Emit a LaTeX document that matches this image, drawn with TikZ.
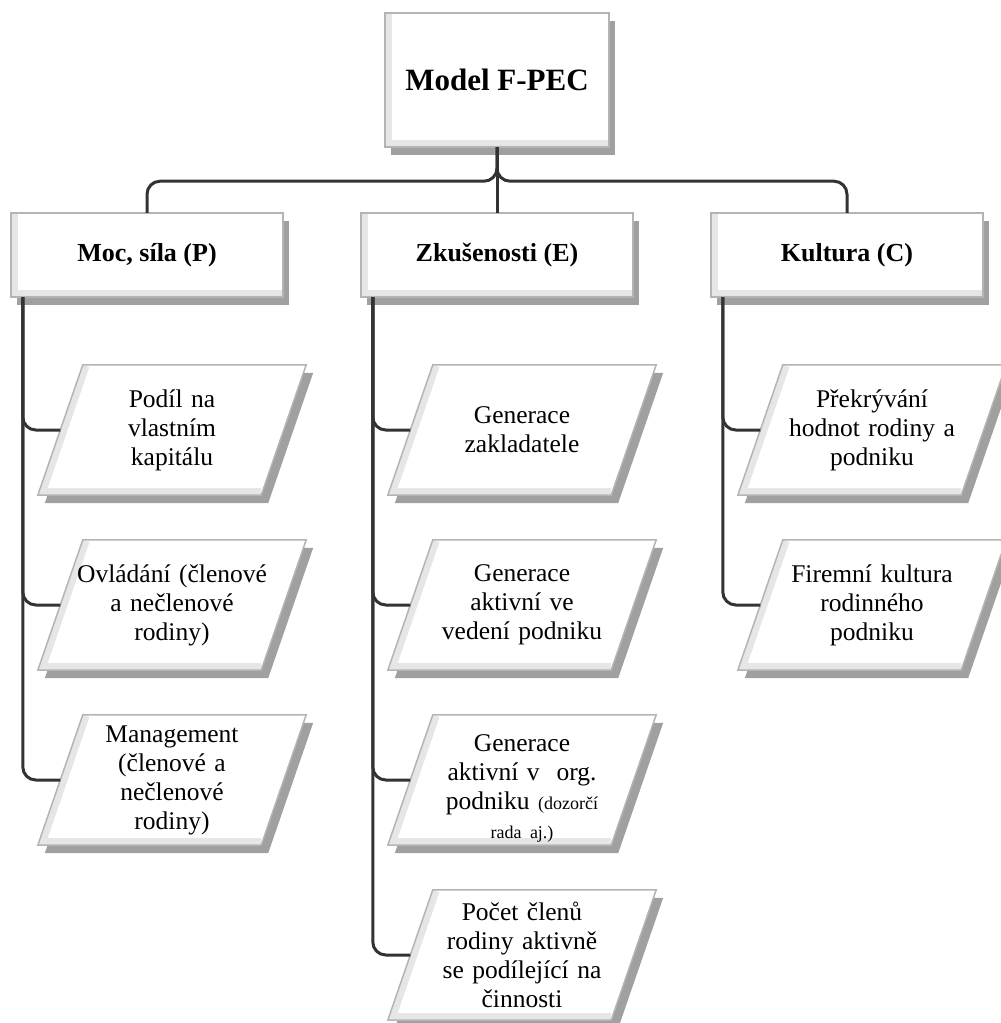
\documentclass[tikz,border=0pt]{standalone}
\usepackage{fontspec}
\setmainfont{Liberation Serif}
\usetikzlibrary{calc,backgrounds}
\definecolor{linec}{HTML}{333333}
\definecolor{edgec}{HTML}{B4B4B4}
\definecolor{shadowc}{HTML}{A0A0A0}
\definecolor{bevelc}{HTML}{E6E6E6}
\tikzset{
  head/.style={minimum width=272pt, minimum height=84pt, inner sep=0pt, font=\fontsize{26}{30}\selectfont\bfseries},
  item/.style={minimum width=223pt, minimum height=130pt, inner sep=0pt, text width=205pt, align=center, font=\fontsize{25.5}{29}\selectfont},
  link/.style={draw=linec, line width=3pt, rounded corners=13pt},
}
\newcommand{\smalltxt}{\fontsize{18}{20}\selectfont}
\begin{document}
\begin{tikzpicture}[x=1pt,y=-1pt]
\useasboundingbox (0,0) rectangle (1001,1023);
% boxes
\node[head, minimum width=224pt, minimum height=134pt, font=\fontsize{31}{36}\selectfont\bfseries] (top) at (497,80) {Model F-PEC};
\node[head] (pw) at (147,255) {Moc, síla (P)};
\node[head] (ex) at (497,255) {Zkušenosti (E)};
\node[head] (cu) at (847,255) {Kultura (C)};
\node[item] (p1) at (172,430) {Podíl na\\vlastním\\kapitálu};
\node[item] (p2) at (172,605) {Ovládání (členové\\a nečlenové\\rodiny)};
\node[item] (p3) at (172,780) {Management\\(členové a\\nečlenové\\rodiny)};
\node[item] (e1) at (522,430) {Generace\\zakladatele};
\node[item] (e2) at (522,605) {Generace\\aktivní ve\\vedení podniku};
\node[item] (e3) at (522,780) {\rule{0pt}{34pt}Generace\\aktivní v~ org.\\podniku {\smalltxt(dozorčí}\\{\smalltxt rada aj.)}};
\node[item] (e4) at (522,955) {Počet členů\\rodiny aktivně\\se podílející na\\činnosti};
\node[item] (c1) at (872,430) {Překrývání\\hodnot rodiny a\\podniku};
\node[item] (c2) at (872,605) {Firemní kultura\\rodinného\\podniku};
% shapes behind the text
\begin{scope}[on background layer]
\foreach \n in {top,pw,ex,cu}{
  \fill[shadowc] ($(\n.north west)+(6,8)$) rectangle ($(\n.south east)+(6,8)$);
  \fill[white] (\n.north west) rectangle (\n.south east);
  \begin{scope}
    \clip (\n.north west) rectangle (\n.south east);
    \draw[bevelc, line width=14pt] (\n.north west) -- (\n.south west) -- (\n.south east);
  \end{scope}
  \draw[edgec, line width=1.5pt] (\n.north west) rectangle (\n.south east);
}
\foreach \n in {p1,p2,p3,e1,e2,e3,e4,c1,c2}{
  \path ($(\n.north west)+(22.5,0)$) coordinate (a) ($(\n.north east)+(22.5,0)$) coordinate (b)
        ($(\n.south east)+(-22.5,0)$) coordinate (c) ($(\n.south west)+(-22.5,0)$) coordinate (d);
  \fill[shadowc] ($(a)+(7,8)$) -- ($(b)+(7,8)$) -- ($(c)+(7,8)$) -- ($(d)+(7,8)$) -- cycle;
  \fill[white] (a) -- (b) -- (c) -- (d) -- cycle;
  \begin{scope}
    \clip (a) -- (b) -- (c) -- (d) -- cycle;
    \draw[bevelc, line width=14pt] (a) -- (d) -- (c);
  \end{scope}
  \draw[edgec, line width=1.5pt] (a) -- (b) -- (c) -- (d) -- cycle;
}
\end{scope}
% connectors
\draw[link] (top.south) -- (ex.north);
\foreach \h in {pw,cu} \draw[link] (top.south) -- ++(0,34) -| (\h.north);
\foreach \h/\kids in {pw/{p1,p2,p3},ex/{e1,e2,e3,e4},cu/{c1,c2}}
  \foreach \k in \kids \draw[link] ($(\h.south west)+(12,0)$) |- (\k.west);
\end{tikzpicture}
\end{document}
